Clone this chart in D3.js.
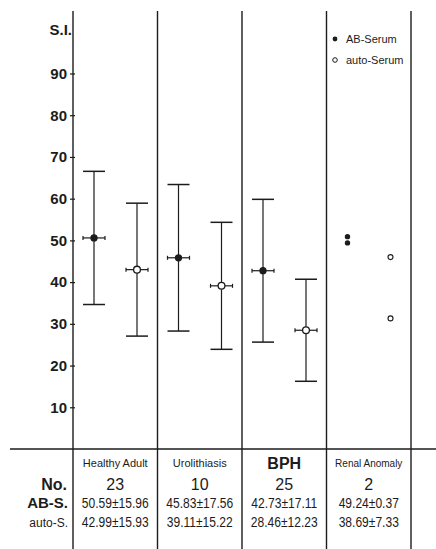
<!DOCTYPE html>
<html>
<head>
<meta charset="utf-8">
<script src="https://cdn.jsdelivr.net/npm/d3@7"></script>
<style>
  html, body { margin: 0; padding: 0; background: #fff; }
  svg { display: block; font-family: "Liberation Sans", Arial, sans-serif; }
</style>
</head>
<body>
<svg id="chart" width="436" height="549"></svg>
<script>
// Groups and summary statistics (mean ± SD)
const groups = ["Healthy Adult", "Urolithiasis", "BPH", "Renal Anomaly"];
const counts = [23, 10, 25, 2];
const abMean = [50.59, 45.83, 42.73, 49.24];
const abSD = [15.96, 17.56, 17.11, 0.37];
const autoMean = [42.99, 39.11, 28.46, 38.69];
const autoSD = [15.93, 15.22, 12.23, 7.33];
// Renal Anomaly: individual cases plotted as points
const renalAB = [50.9, 49.4];
const renalAuto = [46.0, 31.3];
const series = ["AB", "auto"];
const yTicks = [10, 20, 30, 40, 50, 60, 70, 80, 90];

const svg = d3.select("#chart");
const ink = "#1c1c1c";

const y = d3.scaleLinear().domain([0, 90]).range([449, 73.5]);
const x = d3.scaleBand().domain(groups).range([73, 411]).padding(0);
const sub = d3.scalePoint().domain(series).range([21, 64]);

// vertical column rules (first one doubles as the y axis)
const rules = [...groups.map(g => x(g)), x.range()[1]];
svg.selectAll("line.rule").data(rules).join("line")
  .attr("class", "rule")
  .attr("x1", d => d).attr("x2", d => d)
  .attr("y1", 11).attr("y2", 549)
  .attr("stroke", ink).attr("stroke-width", 1.4);

// baseline separating plot from table
svg.append("line")
  .attr("x1", 10).attr("x2", 436)
  .attr("y1", y(0)).attr("y2", y(0))
  .attr("stroke", ink).attr("stroke-width", 1.3);

// y axis ticks and labels
const yAxis = d3.axisLeft(y).tickValues(yTicks).tickSize(3).tickPadding(3);
const gy = svg.append("g").attr("transform", "translate(73,0)").call(yAxis);
gy.select(".domain").remove();
gy.selectAll(".tick line").attr("stroke", ink).attr("stroke-width", 1.2).attr("x2", 2).attr("x1", -3);
gy.selectAll(".tick text")
  .attr("fill", ink)
  .style("font-size", "15px").style("font-weight", "bold")
  .attr("font-family", "Liberation Sans, Arial, sans-serif");

svg.append("text").attr("x", 72).attr("y", 35)
  .attr("text-anchor", "end")
  .style("font-size", "15px").style("font-weight", "bold").attr("fill", ink)
  .text("S.I.");

// error bars for the three summarised groups
const stats = [];
groups.slice(0, 3).forEach((g, i) => {
  stats.push({ g, s: "AB", m: abMean[i], sd: abSD[i] });
  stats.push({ g, s: "auto", m: autoMean[i], sd: autoSD[i] });
});
const cx = d => x(d.g) + sub(d.s);
const cap = 11, hw = 11;

const eb = svg.append("g").attr("stroke", ink).attr("stroke-width", 1.2);
stats.forEach(d => {
  const c = cx(d);
  eb.append("line").attr("x1", c).attr("x2", c).attr("y1", y(d.m + d.sd)).attr("y2", y(d.m - d.sd));
  eb.append("line").attr("x1", c - cap).attr("x2", c + cap).attr("y1", y(d.m + d.sd)).attr("y2", y(d.m + d.sd)).attr("stroke-width", 1.5);
  eb.append("line").attr("x1", c - cap).attr("x2", c + cap).attr("y1", y(d.m - d.sd)).attr("y2", y(d.m - d.sd)).attr("stroke-width", 1.5);
  // short horizontal bar through the mean with end ticks
  eb.append("line").attr("x1", c - hw).attr("x2", c + hw).attr("y1", y(d.m)).attr("y2", y(d.m));
  eb.append("line").attr("x1", c - hw).attr("x2", c - hw).attr("y1", y(d.m) - 2).attr("y2", y(d.m) + 2);
  eb.append("line").attr("x1", c + hw).attr("x2", c + hw).attr("y1", y(d.m) - 2).attr("y2", y(d.m) + 2);
});

// mean markers
svg.selectAll("circle.mean").data(stats).join("circle")
  .attr("class", "mean")
  .attr("cx", cx).attr("cy", d => y(d.m))
  .attr("r", d => d.s === "AB" ? 3 : 3.4)
  .attr("fill", d => d.s === "AB" ? ink : "#fff")
  .attr("stroke", ink).attr("stroke-width", 1.3);

// renal anomaly individual values
const renal = groups[3];
svg.selectAll("circle.rab").data(renalAB).join("circle")
  .attr("cx", x(renal) + sub("AB")).attr("cy", d => y(d)).attr("r", 2.7)
  .attr("fill", ink);
svg.selectAll("circle.rauto").data(renalAuto).join("circle")
  .attr("cx", x(renal) + sub("auto")).attr("cy", d => y(d)).attr("r", 2.5)
  .attr("fill", "#fff").attr("stroke", ink).attr("stroke-width", 1.1);

// legend
const leg = svg.append("g").attr("fill", ink).style("font-size", "11px");
leg.append("circle").attr("cx", 335).attr("cy", 39).attr("r", 2.4).attr("fill", ink);
leg.append("text").attr("x", 346).attr("y", 43).text("AB-Serum");
leg.append("circle").attr("cx", 335).attr("cy", 60).attr("r", 2.3).attr("fill", "#fff").attr("stroke", ink).attr("stroke-width", 1);
leg.append("text").attr("x", 346).attr("y", 64).text("auto-Serum");

// table below the plot
const colC = g => x(g) + x.bandwidth() / 2;
const headSize = [11, 11, 16, 10];
const headWeight = ["normal", "normal", "bold", "normal"];
const tbl = svg.append("g").attr("fill", ink).attr("text-anchor", "middle");

// narrow numeric cells: squeeze glyphs horizontally
function narrow(sel, k) {
  sel.each(function () {
    const w = this.getComputedTextLength();
    d3.select(this).attr("textLength", w * k).attr("lengthAdjust", "spacingAndGlyphs");
  });
}

groups.forEach((g, i) => {
  tbl.append("text").attr("x", colC(g)).attr("y", i === 2 ? 469 : 467)
    .style("font-size", headSize[i] + "px").style("font-weight", headWeight[i])
    .text(g);
  tbl.append("text").attr("x", colC(g)).attr("y", 490)
    .style("font-size", "16px").text(counts[i]);
  tbl.append("text").attr("x", colC(g)).attr("y", 508)
    .style("font-size", "14px")
    .text(abMean[i].toFixed(2) + "±" + abSD[i].toFixed(2))
    .call(narrow, 0.86);
  tbl.append("text").attr("x", colC(g)).attr("y", 527)
    .style("font-size", "14px")
    .text(autoMean[i].toFixed(2) + "±" + autoSD[i].toFixed(2))
    .call(narrow, 0.86);
});

const rowLab = svg.append("g").attr("fill", ink).attr("text-anchor", "end");
rowLab.append("text").attr("x", 67).attr("y", 490).style("font-size", "16px").style("font-weight", "bold").text("No.");
rowLab.append("text").attr("x", 68).attr("y", 508).style("font-size", "15px").style("font-weight", "bold").text("AB-S.");
rowLab.append("text").attr("x", 68).attr("y", 527).style("font-size", "12px").text("auto-S.");
</script>
</body>
</html>
